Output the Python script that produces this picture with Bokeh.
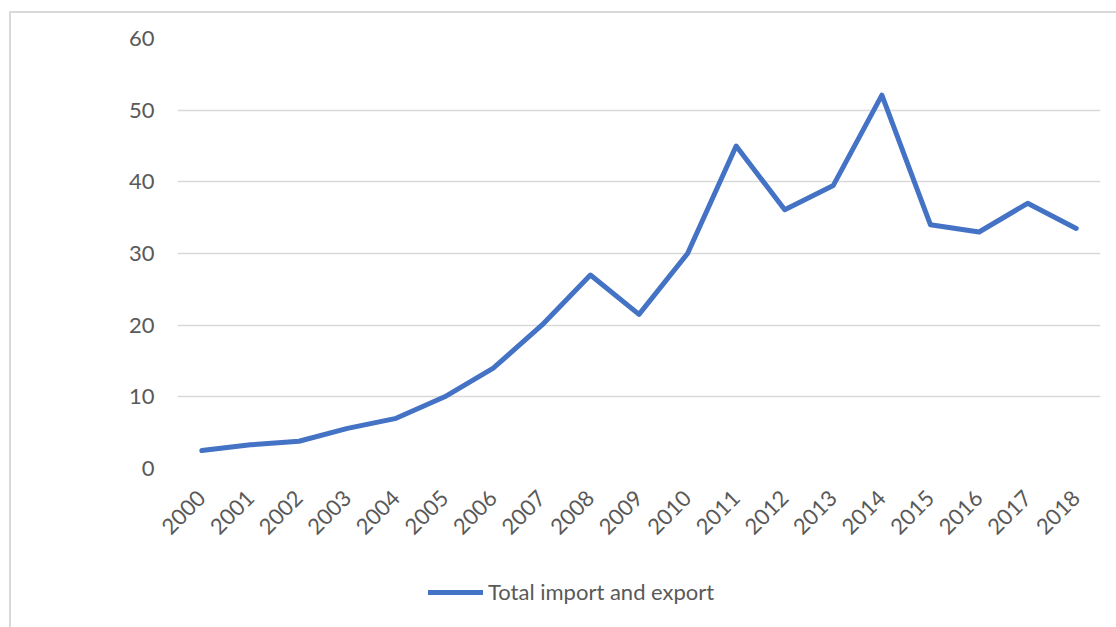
from bokeh.plotting import figure
from bokeh.layouts import column
from bokeh.models import FactorRange, Range1d, Legend, LegendItem, FixedTicker
from bokeh.embed import file_html
from bokeh.resources import INLINE
import math

years = [str(y) for y in range(2000, 2019)]
values = [2.5, 3.3, 3.8, 5.6, 7.0, 10.0, 14.0, 20.0, 27.0, 21.5, 30.0,
          45.0, 36.1, 39.5, 52.1, 34.0, 33.0, 37.0, 33.5]
series_name = "Total import and export"
y_ticks = [0, 10, 20, 30, 40, 50, 60]

FONT = "Lato"
TXT = "#595959"
LINE = "#4472C4"

p = figure(width=1105, height=547, output_backend="svg", toolbar_location=None,
           x_range=FactorRange(*years, range_padding=0), y_range=Range1d(0, 60),
           min_border_left=166, min_border_right=16, min_border_top=25, min_border_bottom=92)
p.outline_line_color = None
p.background_fill_color = "white"
p.border_fill_color = "white"

p.line(years, values, line_color=LINE, line_width=5, line_join="round", line_cap="round")

p.xgrid.grid_line_color = None
p.ygrid.grid_line_color = "#d9d9d9"
p.ygrid.grid_line_width = 1.3
p.yaxis.ticker = FixedTicker(ticks=y_ticks)

for ax in (p.xaxis[0], p.yaxis[0]):
    ax.axis_line_color = None
    ax.major_tick_line_color = None
    ax.minor_tick_line_color = None
    ax.major_tick_out = 0
    ax.minor_tick_out = 0
    ax.major_label_text_font = FONT
    ax.major_label_text_font_size = "22px"
    ax.major_label_text_color = TXT
p.yaxis.major_label_standoff = 23
p.xaxis.major_label_orientation = math.pi / 4
p.xaxis.major_label_standoff = 26

# legend strip below the chart (its frame is aligned with the chart frame)
p2 = figure(width=1105, height=67, output_backend="svg", toolbar_location=None,
            x_axis_type=None, y_axis_type=None, x_range=Range1d(0, 1), y_range=Range1d(0, 1),
            min_border=0)
p2.outline_line_color = None
p2.grid.visible = False
r2 = p2.line([5, 6], [5, 6], line_color=LINE, line_width=5, line_cap="round")
legend = Legend(items=[LegendItem(label=series_name, renderers=[r2])],
                location=(251, 22), glyph_width=55, glyph_height=24, label_height=24,
                label_standoff=5, padding=0, margin=0, border_line_color=None,
                background_fill_alpha=0, label_text_font=FONT, label_text_font_size="22px",
                label_text_color=TXT)
p2.add_layout(legend)

layout = column(p, p2, spacing=0, margin=(11, 0, 0, 9),
                styles={"border-top": "2px solid #d9d9d9", "border-left": "2px solid #d9d9d9"})

open("out.html", "w").write(file_html(layout, INLINE))
